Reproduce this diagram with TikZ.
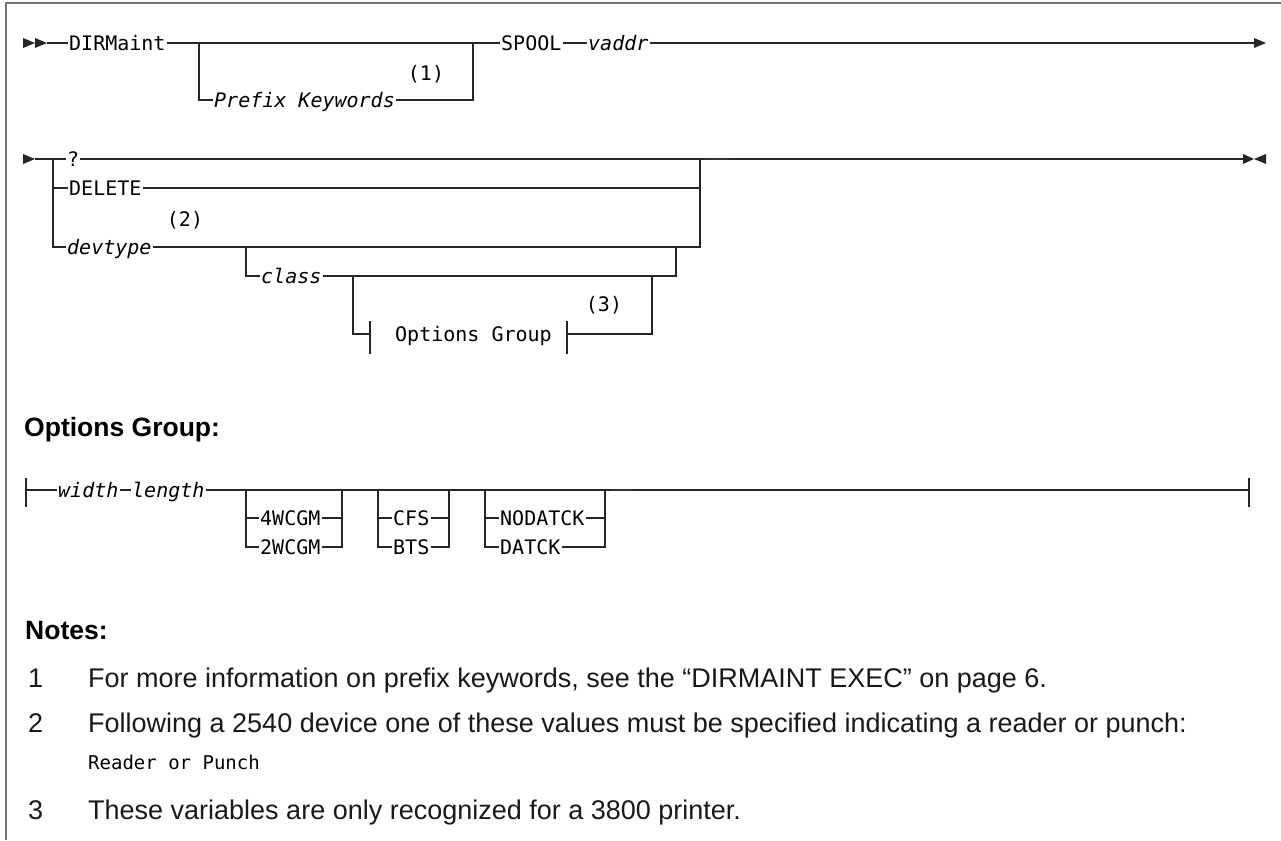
\documentclass[tikz,border=0pt]{standalone}
\usepackage{fontspec}
\setmainfont{Liberation Sans}
\newfontfamily\dmono{DejaVu Sans Mono}
\begin{document}
\begin{tikzpicture}[x=1pt,y=-1pt,
  rr/.style={line width=1.35pt, draw=black!85},
  kw/.style={font=\dmono\fontsize{20}{20}\selectfont, anchor=west, inner xsep=1pt, inner ysep=0pt, text height=14.6pt, text depth=0pt},
  var/.style={kw, font=\dmono\itshape\fontsize{20}{20}\selectfont},
  refn/.style={font=\dmono\fontsize{20}{20}\selectfont, inner sep=0pt},
  head/.style={font=\bfseries\fontsize{26.5}{30}\selectfont, anchor=west, inner sep=0pt, text height=19pt, text depth=0pt},
  body/.style={font=\fontsize{27}{30}\selectfont, anchor=west, inner sep=0pt, text height=19.3pt, text depth=0pt, text=black!90},
  rpn/.style={font=\dmono\fontsize{19}{19}\selectfont, anchor=west, inner sep=0pt, text height=13.8pt, text depth=0pt},
  arr/.style={fill=black!85},
  frame/.style={line width=2pt, draw=black!55},
  blip/.style={line width=2.1pt, draw=black!80},
]
\useasboundingbox (0,0) rectangle (1281,840);
\draw[frame] (6,840) -- (6,3) -- (1281,3);

% ---------- line 1 ----------
\fill[arr] (23,38) -- (35,43) -- (23,48) -- cycle;
\fill[arr] (35,38) -- (47,43) -- (35,48) -- cycle;
\coordinate (a1) at (47,43);
\node[kw] (dirm) at (68,43) {DIRMaint};
\coordinate (b1l) at (199,43);
\coordinate (b1r) at (473,43);
\coordinate (b1ll) at (199,100);
\coordinate (b1rl) at (473,100);
\node[var] (pk) at (213,100) {Prefix Keywords};
\node[refn] (r1) at (426,74) {(1)};
\node[kw] (spool) at (500,43) {SPOOL};
\node[var] (vaddr) at (587,43) {vaddr};
\coordinate (e1) at (1254,43);
\draw[rr] (a1) -- (dirm.west);
\draw[rr] (dirm.east) -- (b1l) -- (b1r) -- (spool.west);
\draw[rr] (b1l) -- (b1ll) -- (pk.west);
\draw[rr] (pk.east) -- (b1rl) -- (b1r);
\draw[rr] (spool.east) -- (vaddr.west);
\draw[rr] (vaddr.east) -- (e1);
\fill[arr] (1254,38) -- (1266,43) -- (1254,48) -- cycle;

% ---------- line 2 ----------
\fill[arr] (23,154) -- (35,159) -- (23,164) -- cycle;
\coordinate (a2) at (35,159);
\coordinate (b2l) at (53,159);
\coordinate (b2l2) at (53,188);
\coordinate (b2l3) at (53,247);
\coordinate (b2r) at (700,159);
\coordinate (b2r2) at (700,188);
\coordinate (b2r3) at (700,247);
\node[kw] (q) at (66,159) {?};
\node[kw] (del) at (68,188) {DELETE};
\node[var] (dev) at (66,247) {devtype};
\node[refn] (r2) at (185,220) {(2)};
\coordinate (e2) at (1243,159);
\draw[rr] (a2) -- (b2l) -- (q.west);
\draw[rr] (q.east) -- (b2r) -- (e2);
\draw[blip] (705,158.6) -- (729,158.6);
\draw[rr] (b2l) -- (b2l3) -- (dev.west);
\draw[rr] (b2l2) -- (del.west);
\draw[rr] (del.east) -- (b2r2);
\draw[rr] (dev.east) -- (b2r3) -- (b2r);
\fill[arr] (1243,154) -- (1254,159) -- (1243,164) -- cycle;
\fill[arr] (1266,154) -- (1254,159) -- (1266,164) -- cycle;

% class branch
\coordinate (c1) at (246,247);
\coordinate (c1l) at (246,276);
\coordinate (c1r) at (676,247);
\coordinate (c1rl) at (676,276);
\node[var] (cls) at (260,276) {class};
\draw[rr] (c1) -- (c1l) -- (cls.west);
\draw[rr] (cls.east) -- (c1rl) -- (c1r);

% options group reference
\coordinate (o1) at (353,276);
\coordinate (o1l) at (353,334);
\coordinate (o1r) at (652,276);
\coordinate (o1rl) at (652,334);
\coordinate (tk1) at (370,334);
\coordinate (tk2) at (567,334);
\node[kw] (og) at (394,334) {Options Group};
\node[refn] (r3) at (604,305) {(3)};
\draw[rr] (o1) -- (o1l) -- (tk1);
\draw[rr] (tk1 |- 0,321) -- (tk1 |- 0,354);
\draw[rr] (tk2 |- 0,321) -- (tk2 |- 0,354);
\draw[rr] (tk2) -- (o1rl) -- (o1r);

% ---------- Options Group fragment ----------
\node[head] (ogh) at (24,427) {Options Group:};
\coordinate (ft1) at (26,490);
\coordinate (ft2) at (1249,490);
\node[var] (wid) at (57,490) {width};
\node[var] (len) at (131,490) {length};
\draw[rr] (ft1 |- 0,478) -- (ft1 |- 0,507);
\draw[rr] (ft2 |- 0,478) -- (ft2 |- 0,507);
\draw[rr] (ft1) -- (wid.west);
\draw[rr] (wid.east) -- (len.west);
\draw[rr] (len.east) -- (ft2);
\draw[blip] (610,489.6) -- (633,489.6);
% 4WCGM / 2WCGM
\coordinate (ga) at (246,490);
\coordinate (gb) at (342,490);
\node[kw] (g4) at (259,518) {4WCGM};
\node[kw] (g2) at (259,547) {2WCGM};
\draw[rr] (ga) -- (ga |- g2.west) -- (g2.west);
\draw[rr] (ga |- g4.west) -- (g4.west);
\draw[rr] (g4.east) -- (gb |- g4.east);
\draw[rr] (g2.east) -- (gb |- g2.east) -- (gb);
% CFS / BTS
\coordinate (ca) at (378,490);
\coordinate (cb) at (449,490);
\node[kw] (cfs) at (392,518) {CFS};
\node[kw] (bts) at (392,547) {BTS};
\draw[rr] (ca) -- (ca |- bts.west) -- (bts.west);
\draw[rr] (ca |- cfs.west) -- (cfs.west);
\draw[rr] (cfs.east) -- (cb |- cfs.east);
\draw[rr] (bts.east) -- (cb |- bts.east) -- (cb);
% NODATCK / DATCK
\coordinate (da) at (485,490);
\coordinate (db) at (605,490);
\node[kw] (nod) at (499,518) {NODATCK};
\node[kw] (dat) at (499,547) {DATCK};
\draw[rr] (da) -- (da |- dat.west) -- (dat.west);
\draw[rr] (da |- nod.west) -- (nod.west);
\draw[rr] (nod.east) -- (db |- nod.east);
\draw[rr] (dat.east) -- (db |- dat.east) -- (db);

% ---------- Notes ----------
\node[head] (nh) at (25,630) {Notes:};
\node[body] (n1n) at (28,678) {1};
\node[body] (n1t) at (88,678) {For more information on prefix keywords, see the “DIRMAINT EXEC” on page 6.};
\node[body] (n2n) at (28,723) {2};
\node[body] (n2t) at (88,723) {Following a 2540 device one of these values must be specified indicating a reader or punch:};
\node[rpn] (n2r) at (88,763) {Reader or Punch};
\node[body] (n3n) at (28,810) {3};
\node[body] (n3t) at (88,810) {These variables are only recognized for a 3800 printer.};
\end{tikzpicture}
\end{document}
